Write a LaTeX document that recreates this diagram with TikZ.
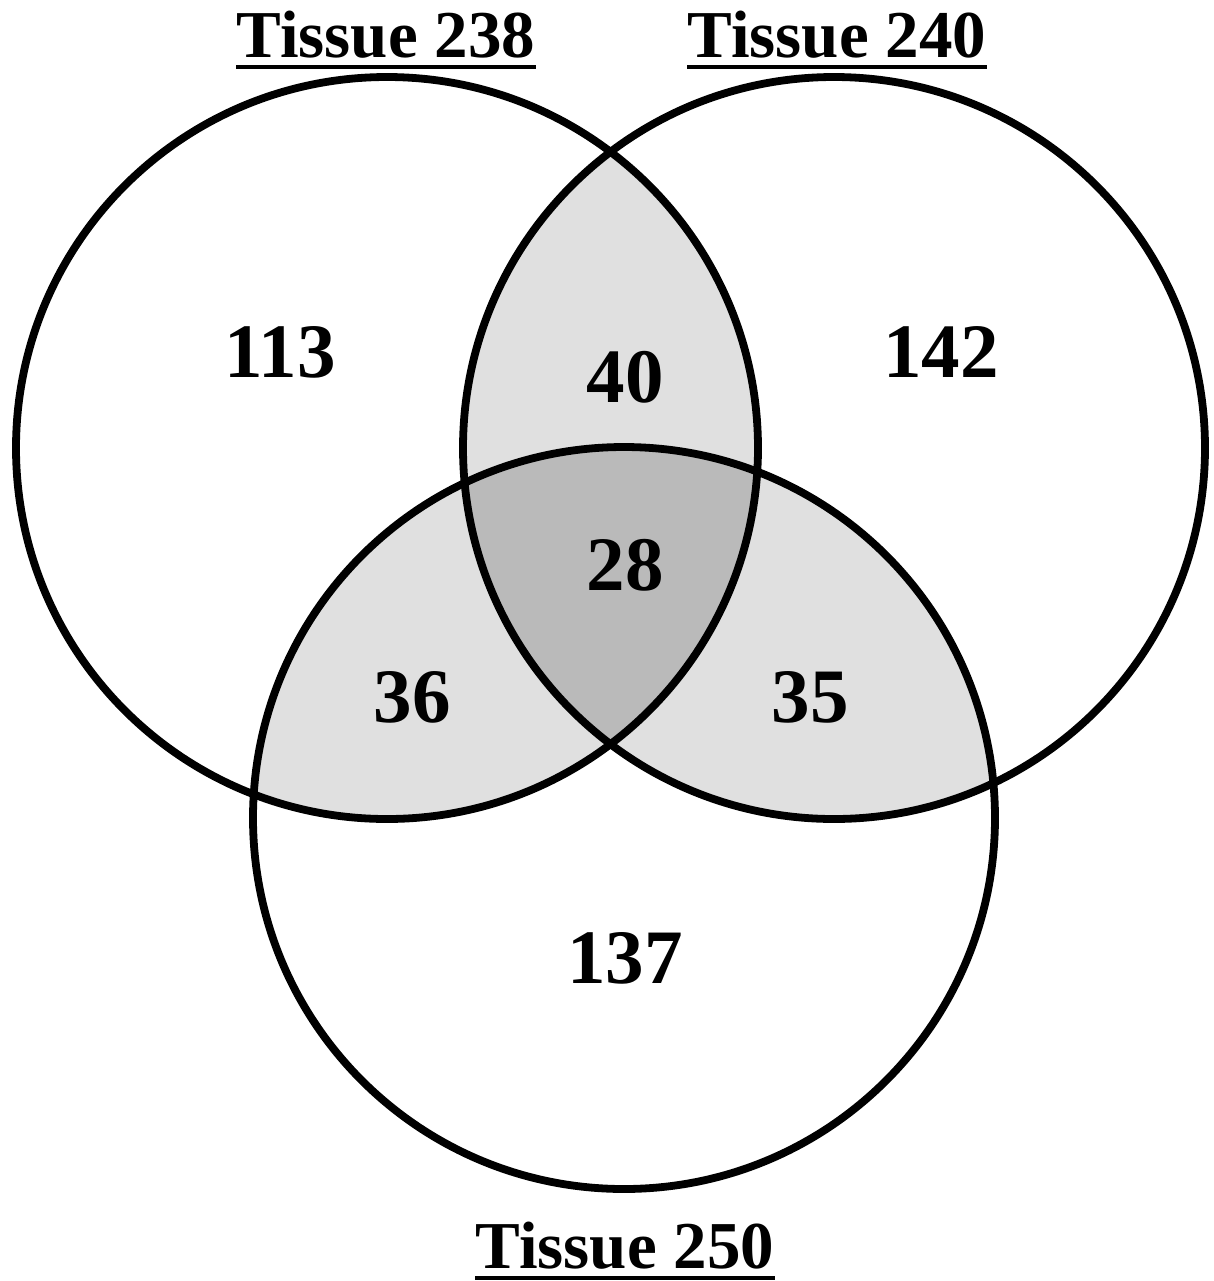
\documentclass[tikz,border=0pt]{standalone}
\usepackage{fontspec}
\setmainfont{Liberation Serif}
\begin{document}
\begin{tikzpicture}[x=0.5pt, y=-0.5pt,
  setline/.style={line width=3.9pt, draw=black},
  pairfill/.style={fill=black!12},
  triplefill/.style={fill=black!27},
  count/.style={font=\fontsize{38.5}{38.5}\selectfont\bfseries, inner sep=0pt},
  setname/.style={font=\fontsize{33.5}{33.5}\selectfont\bfseries, inner sep=0pt, anchor=base},
  uline/.style={line width=1.6pt}
]
\def\R{185.5pt}
\useasboundingbox (0,0) rectangle (1214,1281);

% set centres
\coordinate (cA) at (387,448);   % Tissue 238
\coordinate (cB) at (834,448);   % Tissue 240
\coordinate (cC) at (624,818);   % Tissue 250

% pairwise overlaps
\begin{scope}
  \clip (cA) circle[radius=\R];
  \fill[pairfill] (cB) circle[radius=\R];
  \fill[pairfill] (cC) circle[radius=\R];
\end{scope}
\begin{scope}
  \clip (cB) circle[radius=\R];
  \fill[pairfill] (cC) circle[radius=\R];
\end{scope}
% common overlap of all three
\begin{scope}
  \clip (cA) circle[radius=\R];
  \clip (cB) circle[radius=\R];
  \fill[triplefill] (cC) circle[radius=\R];
\end{scope}

% outlines
\draw[setline] (cA) circle[radius=\R];
\draw[setline] (cB) circle[radius=\R];
\draw[setline] (cC) circle[radius=\R];

% region counts
\node[count] (nA)   at (280,352) {113};
\node[count] (nAB)  at (625,377) {40};
\node[count] (nB)   at (941,352) {142};
\node[count] (nABC) at (625,565) {28};
\node[count] (nAC)  at (412,697) {36};
\node[count] (nBC)  at (810,697) {35};
\node[count] (nC)   at (625,958) {137};

% set names, underlined
\node[setname] (tA) at (386,57) {Tissue 238};
\node[setname] (tB) at (837,57) {Tissue 240};
\node[setname] (tC) at (625,1268) {Tissue 250};
\foreach \t in {tA,tB,tC}
  \draw[uline] ([yshift=-5pt]\t.base west) -- ([yshift=-5pt]\t.base east);
\end{tikzpicture}
\end{document}
